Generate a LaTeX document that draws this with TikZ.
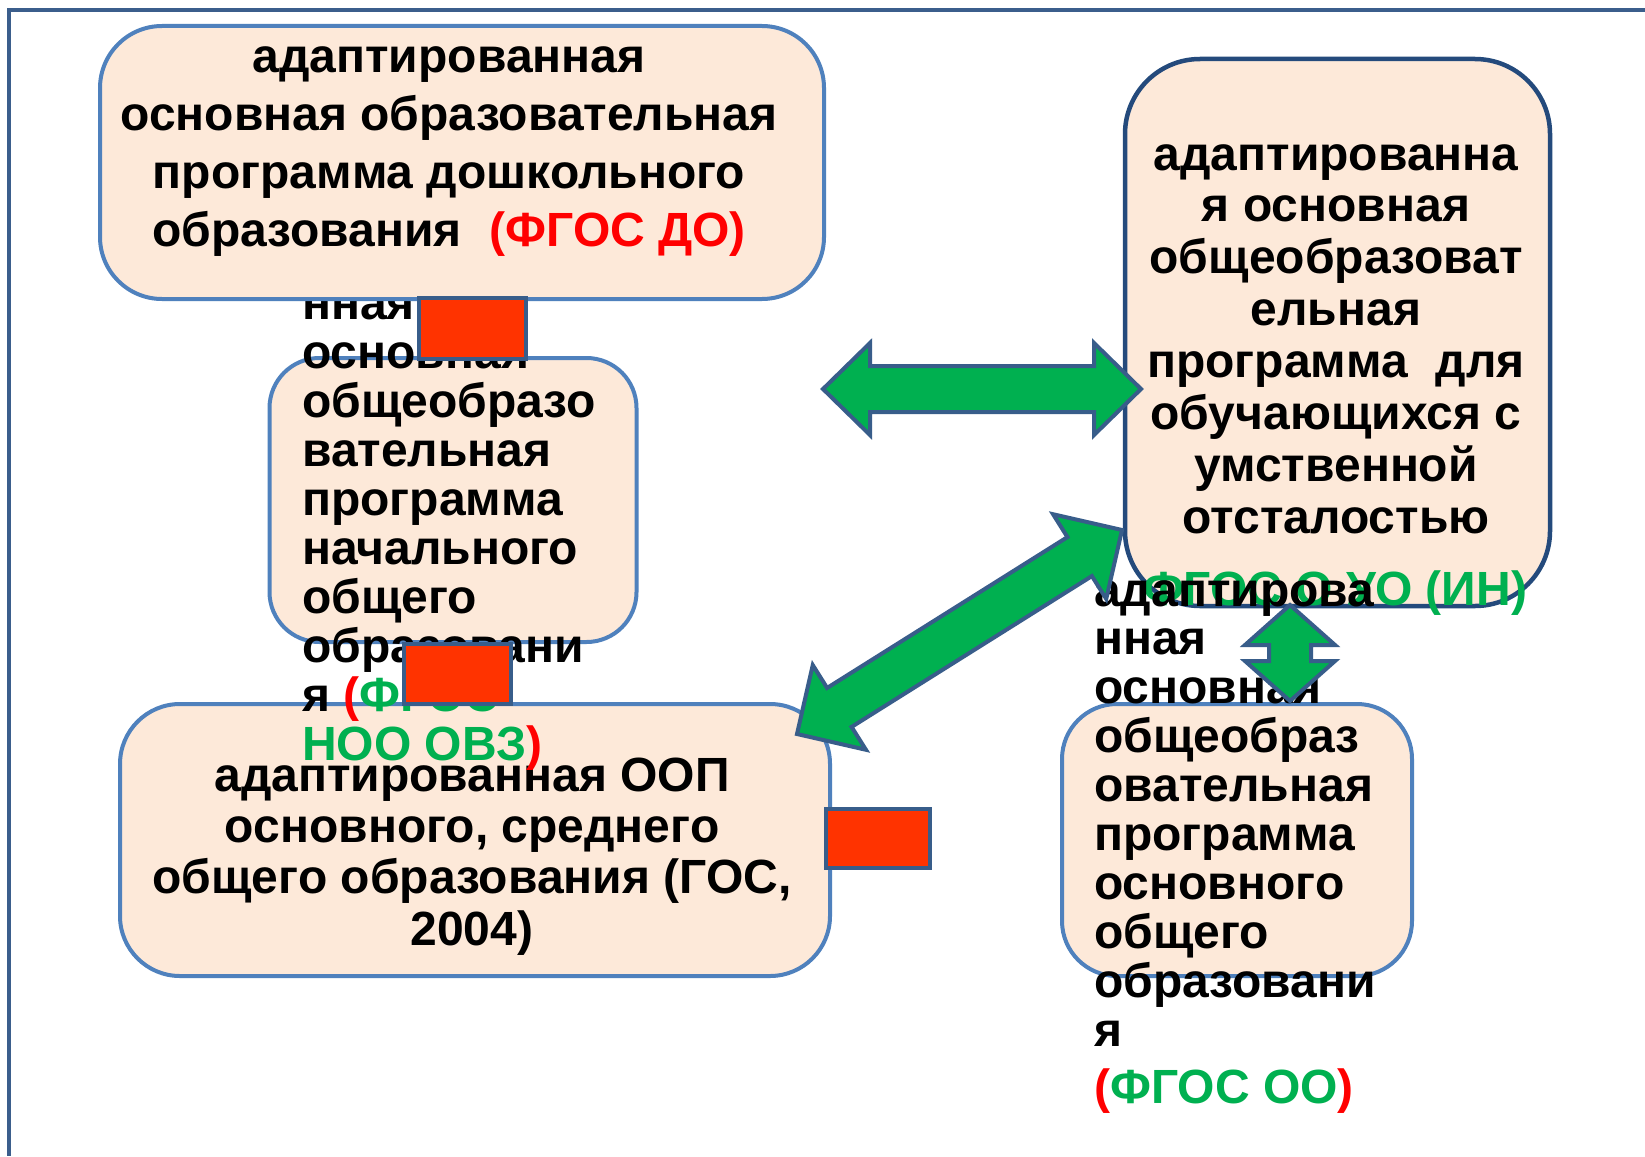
\documentclass[tikz,border=0pt]{standalone}
\usepackage{fontspec}
\setmainfont{Liberation Sans}
\usetikzlibrary{calc}
\definecolor{peach}{HTML}{FDE9D9}
\definecolor{boxblue}{HTML}{4F81BD}
\definecolor{darkblue}{HTML}{244A7C}
\definecolor{arrowedge}{HTML}{385D8A}
\definecolor{framecol}{HTML}{3B5E8C}
\definecolor{fgreen}{HTML}{00B050}
\definecolor{fred}{HTML}{FF0000}
\definecolor{rectred}{HTML}{FF3300}
\newcommand{\mydblarrow}[5]{%
  \filldraw[arrowshape] (#1)
    -- ($(#1)!#3!(#2)!#4!90:(#2)$) -- ($(#1)!#3!(#2)!#5!90:(#2)$)
    -- ($(#2)!#3!(#1)!#5!-90:(#1)$) -- ($(#2)!#3!(#1)!#4!-90:(#1)$)
    -- (#2)
    -- ($(#2)!#3!(#1)!#4!90:(#1)$) -- ($(#2)!#3!(#1)!#5!90:(#1)$)
    -- ($(#1)!#3!(#2)!#5!-90:(#2)$) -- ($(#1)!#3!(#2)!#4!-90:(#2)$)
    -- cycle;}
\begin{document}
\begin{tikzpicture}[x=1pt,y=-1pt,
  txt/.style={font=\fontsize{48}{52}\selectfont\bfseries, inner sep=0pt},
  pbox/.style={draw=boxblue, line width=4pt, fill=peach, inner sep=0pt},
  arrowshape/.style={fill=fgreen, draw=arrowedge, line width=4pt, line join=miter},
  redrect/.style={fill=rectred, draw=arrowedge, line width=4pt, inner sep=0pt}]
\useasboundingbox (0,0) rectangle (1645,1156);
\fill[white] (0,0) rectangle (1645,1156);
% frame
\coordinate (ftr) at (1645,10);
\coordinate (ftl) at (9,10);
\coordinate (fbl) at (9,1156);
\draw[framecol, line width=4pt] (ftr) -- (ftl) -- (fbl);

% box 3 (GOS 2004)
\node[pbox, rounded corners=60pt, minimum width=710pt, minimum height=272pt] (b3) at (475,840) {};
\foreach \t [count=\i from 0] in {адаптированная ООП, {основного, среднего}, {общего образования (ГОС,}, 2004)}
  \node[txt, anchor=base] (b3t\i) at (472, 791+51.4*\i) {\t};

% box 2 (NOO OVZ)
\node[pbox, rounded corners=50pt, minimum width=367pt, minimum height=284pt] (b2) at (453,500) {};
\foreach \t [count=\i from 0] in {адаптирова, нная, основная, общеобразо, вательная, программа, начального, общего, образовани, {я \textcolor{fred}{(}\textcolor{fgreen}{ФГОС}}, {\textcolor{fgreen}{НОО ОВЗ}\textcolor{fred}{)}}}
  \node[txt, anchor=base west] (b2t\i) at (302, 270+49*\i) {\t};

% box 1 (DO)
\node[pbox, rounded corners=62pt, minimum width=724pt, minimum height=273pt] (b1) at (462,162.5) {};
\foreach \t [count=\i from 0] in {адаптированная, основная образовательная, программа дошкольного, {образования\hspace{0.3em} \textcolor{fred}{(ФГОС ДО)}}}
  \node[txt, anchor=base] (b1t\i) at (449, 73+57.7*\i) {\t};

% box 4 (UO)
\node[pbox, draw=darkblue, line width=4.5pt, rounded corners=75pt, minimum width=425pt, minimum height=547pt] (b4) at (1337.5,332.5) {};
\foreach \t [count=\i from 0] in {адаптированна, я основная, общеобразоват, ельная, {программа\hspace{0.3em} для}, обучающихся с, умственной, отсталостью}
  \node[txt, anchor=base] (b4t\i) at (1336, 170+51.9*\i) {\t};
\node[txt, anchor=base, text=fgreen] (b4t8) at (1335, 605) {ФГОС О УО (ИН)};

% box 5 (OO)
\node[pbox, rounded corners=55pt, minimum width=350pt, minimum height=272pt] (b5) at (1237,840) {};
\foreach \t [count=\i from 0] in {адаптирова, нная, основная, общеобраз, овательная, программа, основного, общего, образовани, я}
  \node[txt, anchor=base west] (b5t\i) at (1094, 606+48.9*\i) {\t};
\node[txt, anchor=base west] (b5t10) at (1094, 1103) {\textcolor{fred}{(}\textcolor{fgreen}{ФГОС ОО}\textcolor{fred}{)}};

% arrows
\coordinate (hl) at (823,389);
\coordinate (hr) at (1141,389);
\mydblarrow{hl}{hr}{47pt}{46pt}{23pt}
\coordinate (dl) at (797,734);
\coordinate (du) at (1122,530);
\mydblarrow{dl}{du}{50pt}{50pt}{23pt}
\coordinate (vt) at (1290,605);
\coordinate (vb) at (1290,701);
\mydblarrow{vt}{vb}{40pt}{45pt}{21pt}

% red rectangles
\node[redrect, minimum width=107pt, minimum height=61pt] (r1) at (472.5,328.5) {};
\node[redrect, minimum width=107pt, minimum height=60pt] (r2) at (457.5,674) {};
\node[redrect, minimum width=104pt, minimum height=59pt] (r3) at (878,838.5) {};
\end{tikzpicture}
\end{document}
